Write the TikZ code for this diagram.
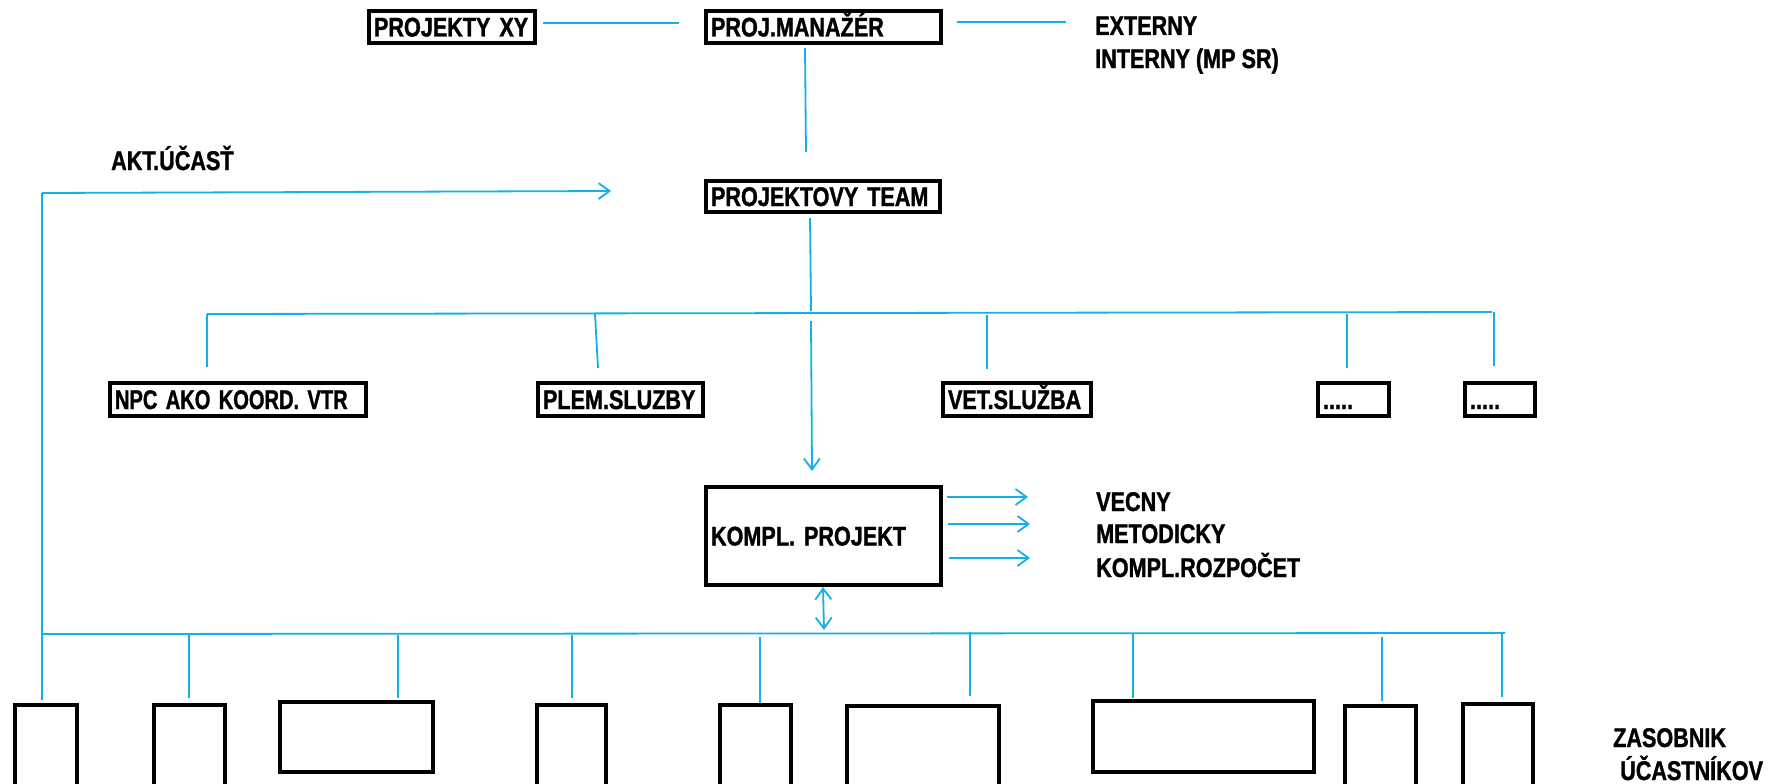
\documentclass[tikz,border=0pt]{standalone}
\usepackage{graphicx}
\usepackage{fontspec}
\newfontfamily\diagfont{Liberation Sans}[UprightFont={* Bold}, BoldFont={* Bold}, FakeStretch=0.8, FakeBold=1.2]
\usetikzlibrary{arrows.meta}
\definecolor{lnblue}{RGB}{20,175,235}
\begin{document}
\begin{tikzpicture}[x=1pt,y=-1pt,
  every node/.style={font=\diagfont\fontsize{27}{30}\selectfont},
  box/.style={draw=black, line width=4pt, rectangle, inner xsep=5pt, inner ysep=0pt,
    text height=19pt, text depth=0pt, align=left},
  emptybox/.style={draw=black, line width=4pt},
  conn/.style={draw=lnblue, line width=1.8pt},
  arr/.style={conn, -{Straight Barb[length=11pt,width=16pt]}},
  darr/.style={conn, {Straight Barb[length=11pt,width=16pt]}-{Straight Barb[length=11pt,width=16pt]}},
  lbl/.style={anchor=base west, inner sep=0pt}
]
\clip (0,0) rectangle (1780,784);
\fill[white] (0,0) rectangle (1780,784);

% boxes with text
\node[box, minimum width=166pt, minimum height=32pt, text width=156pt, anchor=north west] (pxy) at (367,9) {\mbox{PROJEKTY XY}};
\node[box, minimum width=235pt, minimum height=32pt, text width=225pt, anchor=north west] (pm) at (704,9) {\mbox{PROJ.MANAŽÉR}};
\node[box, minimum width=234pt, minimum height=31pt, text width=224pt, anchor=north west] (team) at (704,179) {\mbox{PROJEKTOVY TEAM}};
\node[box, minimum width=256pt, minimum height=33pt, text width=246pt, anchor=north west] (npc) at (108,381) {\scalebox{0.93}[1]{NPC AKO KOORD. VTR}};
\node[box, minimum width=165pt, minimum height=33pt, text width=155pt, anchor=north west] (plem) at (536,381) {\mbox{PLEM.SLUZBY}};
\node[box, minimum width=148pt, minimum height=33pt, text width=138pt, anchor=north west] (vet) at (941,381) {\mbox{VET.SLUŽBA}};
\node[box, minimum width=71pt, minimum height=33pt, text width=61pt, anchor=north west] (d1) at (1316,381) {\vphantom{A}.....};
\node[box, minimum width=70pt, minimum height=33pt, text width=60pt, anchor=north west] (d2) at (1463,381) {\vphantom{A}.....};
\node[box, minimum width=235pt, minimum height=98pt, text width=225pt, anchor=north west] (kp) at (704,485) {\mbox{KOMPL. PROJEKT}};

% bottom boxes (participant pool)
\draw[emptybox] (15,705) rectangle (77,790);
\draw[emptybox] (154,705) rectangle (225,790);
\draw[emptybox] (280,702) rectangle (433,772);
\draw[emptybox] (537,705) rectangle (606,790);
\draw[emptybox] (720,705) rectangle (791,790);
\draw[emptybox] (847,706) rectangle (999,790);
\draw[emptybox] (1093,701) rectangle (1314,772);
\draw[emptybox] (1345,706) rectangle (1416,790);
\draw[emptybox] (1463,704) rectangle (1533,790);

% plain labels
\node[lbl] (ext) at (1095,35) {EXTERNY};
\node[lbl] (int) at (1095,68) {INTERNY (MP SR)};
\node[lbl] (akt) at (111,170) {AKT.ÚČASŤ};
\node[lbl] (vec) at (1096,511) {VECNY};
\node[lbl] (met) at (1096,543) {METODICKY};
\node[lbl] (roz) at (1096,577) {KOMPL.ROZPOČET};
\node[lbl] (zas) at (1613,747) {ZASOBNIK};
\node[lbl] (uca) at (1620,780) {ÚČASTNÍKOV};

% top connectors
\coordinate (a1) at (543,23); \coordinate (a2) at (679,23);
\draw[conn] (a1) -- (a2);
\coordinate (b1) at (957,22); \coordinate (b2) at (1066,22);
\draw[conn] (b1) -- (b2);
\coordinate (c1) at (805,48); \coordinate (c2) at (806,152);
\draw[conn] (c1) -- (c2);

% AKT.UCAST feedback line
\coordinate (k0) at (42,700); \coordinate (k1) at (42,193); \coordinate (k2) at (611,191);
\draw[conn] (k0) -- (k1);
\draw[arr] (k1) -- (k2);

% team to upper bus
\coordinate (t1) at (810,218); \coordinate (t2) at (811,311);
\draw[conn] (t1) -- (t2);
\coordinate (ub1) at (207,314); \coordinate (ub2) at (1492,312);
\draw[conn] (ub1) -- (ub2);
\draw[conn] (207,314) -- (207,367);
\draw[conn] (595,314) -- (598,368);
\draw[conn] (987,315) -- (987,369);
\draw[conn] (1347,314) -- (1347,368);
\draw[conn] (1494,312) -- (1494,366);
\coordinate (p1) at (811,321); \coordinate (p2) at (812,471);
\draw[arr] (p1) -- (p2);

% outputs of KOMPL. PROJEKT
\draw[arr] (947,497) -- (1028,497);
\draw[arr] (948,524) -- (1030,524);
\draw[arr] (949,558) -- (1030,558);

% double arrow to lower bus
\coordinate (q1) at (823,587); \coordinate (q2) at (824,630);
\draw[darr] (q1) -- (q2);

% lower bus
\coordinate (lb1) at (42,634); \coordinate (lb2) at (1505,633);
\draw[conn] (lb1) -- (lb2);
\draw[conn] (189,635) -- (189,698);
\draw[conn] (398,635) -- (398,698);
\draw[conn] (572,635) -- (572,698);
\draw[conn] (760,637) -- (760,703);
\draw[conn] (970,632) -- (970,696);
\draw[conn] (1133,634) -- (1133,698);
\draw[conn] (1382,637) -- (1382,701);
\draw[conn] (1502,633) -- (1502,697);
\end{tikzpicture}
\end{document}
